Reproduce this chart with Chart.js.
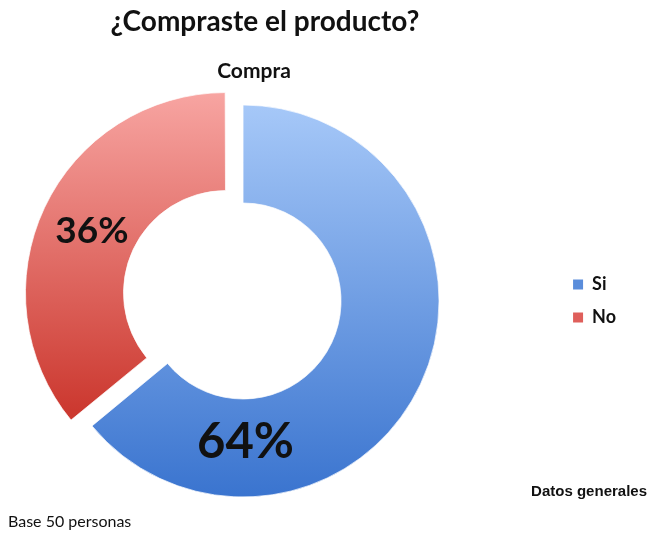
<!DOCTYPE html>
<html lang="es">
<head>
<meta charset="utf-8">
<title>¿Compraste el producto?</title>
<script src="https://cdn.jsdelivr.net/npm/chart.js@4/dist/chart.umd.min.js"></script>
<style>
  html, body { margin: 0; padding: 0; background: #fff; }
  #wrap { position: relative; width: 649px; height: 540px; overflow: hidden; }
  /* canvas reaches past the left edge so the ring sits left of centre */
  #compraChart { position: absolute; left: -72px; top: 0; }
</style>
</head>
<body>
<div id="wrap"><canvas id="compraChart" width="721" height="540"></canvas></div>
<script>
// survey answers
const categories = ['Si', 'No'];
const shares = [64, 36];

// texts around the doughnut
const titleText = '¿Compraste el producto?';
const seriesName = 'Compra';
const baseNote = 'Base 50 personas';
const sourceNote = 'Datos generales';

// slice shading, light at the top going darker to the bottom
const sliceTop = ['#a6c8f8', '#f8a6a3'];
const sliceBottom = ['#3a74cf', '#cc3930'];
const legendColors = ['#5a8ddb', '#df5f5b'];

const RADIUS = 196;
const SHIFT = 72; // how far the canvas starts left of the page

// chart.js moves an arc by a quarter of its offset option
function arcShift(chart, i) {
  return (chart.data.datasets[0].offset[i] || 0) / 4;
}

// vertical extent of a slice, used to stretch its gradient over it
function sliceSpan(chart, i) {
  const area = chart.chartArea;
  const cy = (area.top + area.bottom) / 2;
  const total = shares.reduce((a, b) => a + b, 0);
  const before = shares.slice(0, i).reduce((a, b) => a + b, 0);
  const a0 = -Math.PI / 2 + before / total * 2 * Math.PI;
  const a1 = a0 + shares[i] / total * 2 * Math.PI;
  const oy = cy + Math.sin((a0 + a1) / 2) * arcShift(chart, i);
  let top = Infinity;
  let bottom = -Infinity;
  for (let k = 0; k <= 64; k++) {
    const a = a0 + (a1 - a0) * k / 64;
    [RADIUS, RADIUS / 2].forEach((r) => {
      const y = oy + Math.sin(a) * r;
      top = Math.min(top, y);
      bottom = Math.max(bottom, y);
    });
  }
  return {top, bottom};
}

function sliceFill(context) {
  const chart = context.chart;
  const i = context.dataIndex;
  if (!chart.chartArea) return sliceBottom[i];
  const {top, bottom} = sliceSpan(chart, i);
  const g = chart.ctx.createLinearGradient(0, top, 0, bottom);
  g.addColorStop(0, sliceTop[i]);
  g.addColorStop(1, sliceBottom[i]);
  return g;
}

// percentage labels and the loose texts of the page
const pageText = {
  id: 'pageText',
  afterDatasetsDraw(chart, args, opts) {
    const ctx = chart.ctx;
    const meta = chart.getDatasetMeta(0);
    const total = shares.reduce((a, b) => a + b, 0);
    ctx.save();
    ctx.fillStyle = '#111';
    ctx.textAlign = 'center';
    ctx.textBaseline = 'alphabetic';
    meta.data.forEach((arc, i) => {
      const p = arc.getProps(['x', 'y', 'startAngle', 'endAngle', 'innerRadius', 'outerRadius'], true);
      const off = arcShift(chart, i);
      const mid = (p.startAngle + p.endAngle) / 2;
      const cx = p.x + Math.cos(mid) * off;
      const cy = p.y + Math.sin(mid) * off;
      const ang = opts.angles[i] == null ? mid : (opts.angles[i] - 90) * Math.PI / 180;
      const r = p.innerRadius + (p.outerRadius - p.innerRadius) * opts.depth[i];
      const size = opts.sizes[i];
      ctx.font = 'bold ' + size + 'px Lato';
      const label = Math.round(shares[i] / total * 100) + '%';
      ctx.fillText(label, cx + Math.cos(ang) * r, cy + Math.sin(ang) * r + size * 0.36);
    });
    ctx.restore();
  },
  afterDraw(chart) {
    const ctx = chart.ctx;
    ctx.save();
    ctx.translate(SHIFT, 0);
    ctx.fillStyle = '#111';
    ctx.textBaseline = 'alphabetic';
    ctx.textAlign = 'center';
    ctx.font = 'bold 28px Lato';
    ctx.fillText(titleText, 265, 31);
    ctx.font = 'bold 21px Lato';
    ctx.fillText(seriesName, 254, 78);
    ctx.textAlign = 'left';
    ctx.font = '16px Lato';
    ctx.fillText(baseNote, 8, 527);
    ctx.textAlign = 'right';
    ctx.font = 'bold 15px "Liberation Sans"';
    ctx.fillText(sourceNote, 647, 496);
    ctx.restore();
  },
};

new Chart(document.getElementById('compraChart'), {
  type: 'doughnut',
  data: {
    labels: categories,
    datasets: [{
      label: seriesName,
      data: shares,
      backgroundColor: sliceFill,
      borderColor: 'rgba(255,255,255,0.7)',
      borderWidth: 1,
      offset: [0, 76],
      hoverOffset: 0,
    }],
  },
  options: {
    responsive: false,
    animation: false,
    radius: RADIUS,
    cutout: '50%',
    layout: {
      padding: {left: 0, right: 23, top: 100, bottom: 38},
    },
    plugins: {
      legend: {
        position: 'right',
        labels: {
          boxWidth: 10,
          boxHeight: 10,
          padding: 15,
          color: '#111',
          font: {family: 'Lato', weight: 'bold', size: 18},
          generateLabels(chart) {
            const items = Chart.overrides.doughnut.plugins.legend.labels.generateLabels(chart);
            items.forEach((item, i) => {
              item.fillStyle = legendColors[i];
              item.strokeStyle = legendColors[i];
              item.lineWidth = 0;
            });
            return items;
          },
        },
      },
      tooltip: {enabled: false},
      pageText: {
        angles: [179, null],
        depth: [0.42, 0.51],
        sizes: [49, 37],
      },
    },
  },
  plugins: [pageText],
});
</script>
</body>
</html>
